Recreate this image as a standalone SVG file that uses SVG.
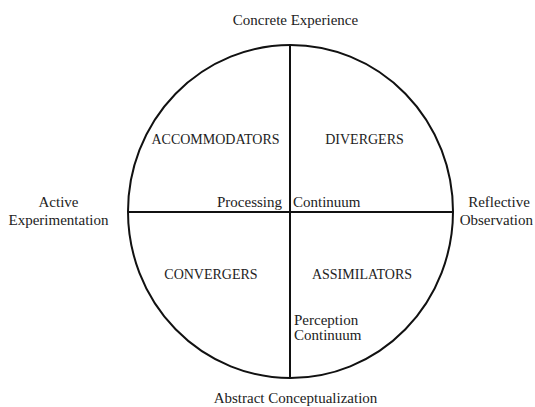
<svg xmlns="http://www.w3.org/2000/svg" width="535" height="407" viewBox="0 0 535 407">
<style>
text{font-family:"Liberation Serif","Times New Roman",serif;font-size:15px;fill:#222}
.k{font-size:14px}
.c{text-anchor:middle}
.ln{stroke:#111;stroke-width:2;fill:none}
</style>
<rect width="535" height="407" fill="#fff"/>
<g id="connectors">
<ellipse class="ln" cx="290.5" cy="211.5" rx="162.5" ry="166.5"/>
<line class="ln" x1="290" y1="45" x2="290" y2="378"/>
<line class="ln" x1="128" y1="212" x2="453" y2="212"/>
</g>
<g id="concrete"><text class="c" x="295.5" y="25">Concrete Experience</text></g>
<g id="abstract"><text class="c" x="295.5" y="403">Abstract Conceptualization</text></g>
<g id="active"><text class="c" x="58.5" y="207">Active</text><text class="c" x="58.5" y="225">Experimentation</text></g>
<g id="reflective"><text class="c" x="499" y="207">Reflective</text><text x="533" y="225" text-anchor="end">Observation</text></g>
<g id="processing"><text x="282" y="207" text-anchor="end">Processing</text></g>
<g id="continuum"><text x="293" y="207">Continuum</text></g>
<g id="perception"><text x="294" y="325">Perception</text><text x="294" y="340">Continuum</text></g>
<g id="accommodators"><text class="c k" x="215.5" y="144">ACCOMMODATORS</text></g>
<g id="divergers"><text class="c k" x="364.5" y="144">DIVERGERS</text></g>
<g id="convergers"><text class="c k" x="211" y="279">CONVERGERS</text></g>
<g id="assimilators"><text class="c k" x="362" y="279">ASSIMILATORS</text></g>
</svg>
